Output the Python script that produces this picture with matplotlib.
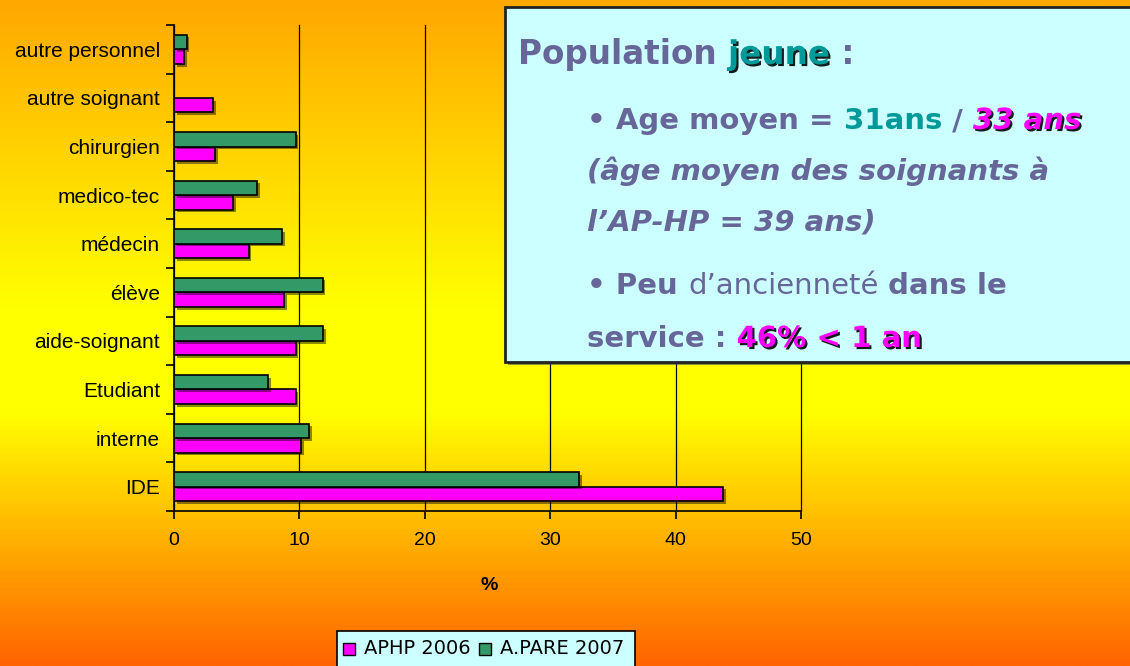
import numpy as np
import matplotlib
matplotlib.use("Agg")
import matplotlib.pyplot as plt
import matplotlib.patheffects as pe
from matplotlib.patches import Rectangle
from matplotlib.colors import LinearSegmentedColormap

# categories bottom -> top
categories = ["IDE", "interne", "Etudiant", "aide-soignant", "élève",
              "médecin", "medico-tec", "chirurgien", "autre soignant", "autre personnel"]
aphp_2006 = [43.8, 10.15, 9.7, 9.7, 8.75, 5.95, 4.7, 3.3, 3.1, 0.8]
apare_2007 = [32.3, 10.8, 7.5, 11.9, 11.85, 8.6, 6.6, 9.7, 0.0, 1.0]
x_ticks = [0, 10, 20, 30, 40, 50]

PINK = "#FF00FF"
GREEN = "#339966"
SLATE = "#666699"
TEAL = "#009999"
BOXFILL = "#CCFFFF"

W, H = 1130, 666
fig = plt.figure(figsize=(W / 100, H / 100), dpi=100)

# background gradient
bg = fig.add_axes([0, 0, 1, 1], zorder=-10)
cmap = LinearSegmentedColormap.from_list(
    "bg", [(0.0, "#FFA800"), (0.46, "#FFFF00"), (0.62, "#FFFF00"), (1.0, "#FF6400")])
bg.imshow(np.linspace(0, 1, 400).reshape(-1, 1), aspect="auto", cmap=cmap,
          extent=[0, 1, 0, 1], origin="upper")
bg.set_axis_off()


def px(x, y):
    return x / W, 1 - y / H


# main chart
ax = fig.add_axes([174 / W, 1 - 511 / H, (801 - 174) / W, (511 - 25) / H])
ax.patch.set_alpha(0)
y = np.arange(len(categories))
h = 0.3
shadow = [pe.SimplePatchShadow(offset=(2, -2), shadow_rgbFace="black", alpha=0.45), pe.Normal()]
b1 = ax.barh(y - h / 2, aphp_2006, height=h, color=PINK, edgecolor="black", linewidth=1.2,
             label="APHP 2006", zorder=3)
b2 = ax.barh(y + h / 2, apare_2007, height=h, color=GREEN, edgecolor="black", linewidth=1.2,
             label="A.PARE 2007", zorder=3)
for b, v in zip(list(b1) + list(b2), aphp_2006 + apare_2007):
    if v > 0:
        b.set_path_effects(shadow)
    else:
        b.set_visible(False)

ax.set_xlim(0, 50)
ax.set_ylim(-0.5, len(categories) - 0.5)
ax.set_xticks(x_ticks)
ax.set_xticklabels([str(t) for t in x_ticks], fontsize=14, family="Liberation Sans")
ax.set_yticks(np.arange(len(categories) + 1) - 0.5)
ax.set_yticklabels([])
ax.set_yticks(y, minor=True)
ax.set_yticklabels(categories, minor=True, fontsize=15, family="Liberation Sans")
ax.tick_params(axis="y", which="minor", length=0, pad=10)
ax.tick_params(axis="y", which="major", length=6, width=1.2, direction="out")
ax.tick_params(axis="x", length=6, width=1.2, direction="out", pad=9)
ax.grid(axis="x", color="black", linewidth=0.9, zorder=1)
for gl in ax.get_xgridlines():
    gl.set_clip_on(False)
for s in ["top", "right"]:
    ax.spines[s].set_visible(False)
for s in ["left", "bottom"]:
    ax.spines[s].set_linewidth(1.2)

fig.text(*px(489, 585), "%", ha="center", va="center", fontsize=14, fontweight="bold",
         family="Liberation Sans")

# legend box
fig.patches.append(Rectangle(px(336.5, 668), (635 - 336.5) / W, (668 - 630.5) / H,
                             transform=fig.transFigure, facecolor=BOXFILL, edgecolor="black",
                             linewidth=1.2, zorder=5))
fig.patches.append(Rectangle(px(343, 655), 12 / W, 12 / H, transform=fig.transFigure,
                             facecolor=PINK, edgecolor="black", linewidth=1, zorder=6))
fig.text(*px(364, 649), "APHP 2006", ha="left", va="center", fontsize=14,
         family="Liberation Sans Narrow", zorder=6)
fig.patches.append(Rectangle(px(479, 655), 12 / W, 12 / H, transform=fig.transFigure,
                             facecolor=GREEN, edgecolor="black", linewidth=1, zorder=6))
fig.text(*px(500, 649), "A.PARE 2007", ha="left", va="center", fontsize=14,
         family="Liberation Sans Narrow", zorder=6)

# text box
fig.patches.append(Rectangle(px(505, 362), (1132 - 505) / W, (362 - 7) / H,
                             transform=fig.transFigure, facecolor=BOXFILL, edgecolor="#222222",
                             linewidth=2, zorder=5,
                             path_effects=[pe.SimplePatchShadow(offset=(2, -2), alpha=0.6),
                                           pe.Normal()]))

renderer = fig.canvas.get_renderer()
tshadow = [pe.SimplePatchShadow(offset=(1.5, -1.5), shadow_rgbFace="black", alpha=0.9), pe.Normal()]


def rich(x0, ybase, pieces, size):
    x = x0
    for txt, color, weight, style, shad in pieces:
        t = fig.text(*px(x, ybase), txt, ha="left", va="baseline", fontsize=size,
                     color=color, fontweight=weight, fontstyle=style, family="DejaVu Sans",
                     zorder=7)
        if shad:
            t.set_path_effects(tshadow)
        x += t.get_window_extent(renderer).width


rich(518, 64, [("Population ", SLATE, "bold", "normal", False),
               ("jeune", TEAL, "bold", "normal", True),
               (" :", SLATE, "bold", "normal", False)], 23.5)
rich(587, 129, [("• Age moyen = ", SLATE, "bold", "normal", False),
                ("31ans", TEAL, "bold", "normal", False),
                (" / ", SLATE, "bold", "normal", False),
                ("33 ans", PINK, "bold", "italic", True)], 21)
rich(587, 180, [("(âge moyen des soignants à", SLATE, "bold", "italic", False)], 21)
rich(587, 231, [("l’AP-HP = 39 ans)", SLATE, "bold", "italic", False)], 21)
rich(587, 294, [("• Peu ", SLATE, "bold", "normal", False),
                ("d’ancienneté", SLATE, "normal", "normal", False),
                (" dans le", SLATE, "bold", "normal", False)], 21)
rich(587, 347, [("service : ", SLATE, "bold", "normal", False),
                ("46% < 1 an", PINK, "bold", "normal", True)], 21)

fig.savefig("out.png", dpi=100)
